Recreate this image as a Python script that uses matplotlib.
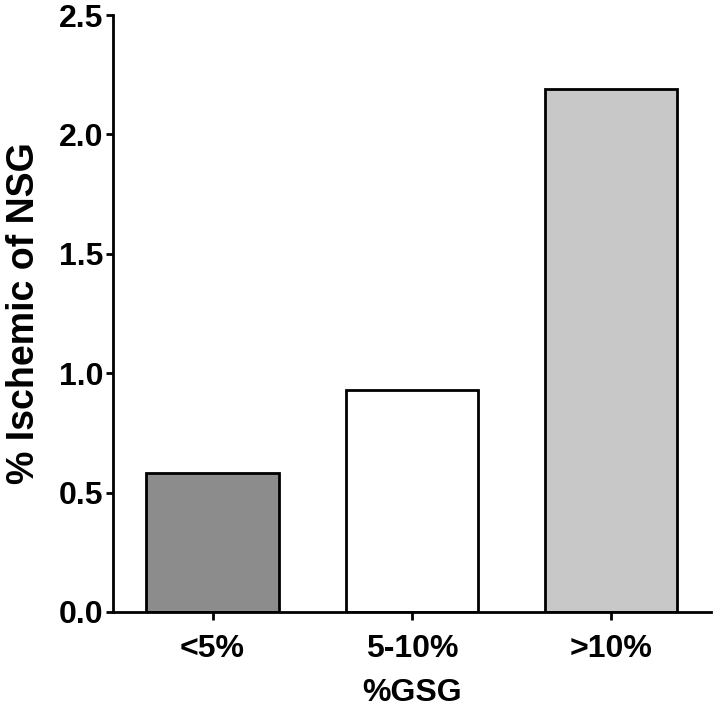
import matplotlib
matplotlib.use("Agg")
import matplotlib.pyplot as plt

groups = ["<5%", "5-10%", ">10%"]
values = [0.58, 0.93, 2.19]
colors = ["#8c8c8c", "#ffffff", "#c8c8c8"]
yticks = [0.0, 0.5, 1.0, 1.5, 2.0, 2.5]

plt.rcParams['font.family'] = ['Liberation Sans', 'DejaVu Sans']
plt.rcParams['font.weight'] = 'bold'

def main():
    fig = plt.figure(figsize=(7.15, 7.19), dpi=100)
    ax = fig.add_axes([0.158, 0.149, 0.836, 0.830])

    x = range(len(groups))
    ax.bar(x, values, width=0.665, color=colors, edgecolor='black', linewidth=2)

    ax.set_xlim(-0.5, 2.5)
    ax.set_ylim(0, 2.5)
    ax.set_yticks(yticks)
    ax.set_yticklabels(["%.1f" % v for v in yticks])
    ax.set_xticks(list(x))
    ax.set_xticklabels(groups)

    for side in ['top', 'right']:
        ax.spines[side].set_visible(False)
    for side in ['left', 'bottom']:
        ax.spines[side].set_linewidth(2)

    ax.tick_params(axis='y', direction='out', length=5, width=2, pad=2, labelsize=23)
    ax.tick_params(axis='x', direction='out', length=6, width=2, pad=10, labelsize=23)

    ax.set_xlabel("%GSG", fontsize=23, fontweight='bold', labelpad=10)
    ax.set_ylabel("% Ischemic of NSG", fontsize=27, fontweight='bold', labelpad=12)

    fig.savefig("out.png", dpi=100)

if __name__ == '__main__':
    main()
